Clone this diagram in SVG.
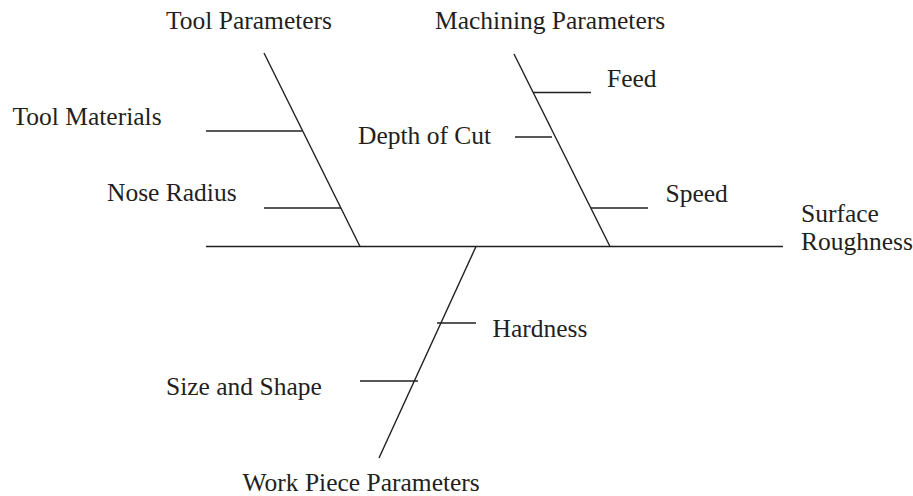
<svg xmlns="http://www.w3.org/2000/svg" width="913" height="496" viewBox="0 0 913 496">
<style>
.ln{stroke:#231f20;stroke-width:1.4;fill:none}
.t{font-family:"Liberation Serif","Times New Roman",serif;font-size:25.5px;fill:#231f20}
</style>
<rect width="913" height="496" fill="#fff"/>
<g id="connectors">
<line class="ln" x1="206" y1="246.5" x2="783" y2="246.5"/>
<line class="ln" x1="264" y1="53" x2="360" y2="246.5"/>
<line class="ln" x1="206" y1="131" x2="302" y2="131"/>
<line class="ln" x1="264" y1="208" x2="341" y2="208"/>
<line class="ln" x1="514" y1="54" x2="610" y2="246.5"/>
<line class="ln" x1="533" y1="92.5" x2="591" y2="92.5"/>
<line class="ln" x1="515" y1="137" x2="552" y2="137"/>
<line class="ln" x1="591" y1="208" x2="648" y2="208"/>
<line class="ln" x1="476" y1="246.5" x2="379" y2="458"/>
<line class="ln" x1="437" y1="323" x2="476" y2="323"/>
<line class="ln" x1="360" y1="381" x2="418" y2="381"/>
</g>
<g id="tool-parameters"><text class="t" x="166" y="29">Tool Parameters</text></g>
<g id="machining-parameters"><text class="t" x="435" y="29">Machining Parameters</text></g>
<g id="tool-materials"><text class="t" x="12.5" y="125">Tool Materials</text></g>
<g id="nose-radius"><text class="t" x="107" y="201">Nose Radius</text></g>
<g id="depth-of-cut"><text class="t" x="358" y="144">Depth of Cut</text></g>
<g id="feed"><text class="t" x="607" y="86.5">Feed</text></g>
<g id="speed"><text class="t" x="665.5" y="201.5">Speed</text></g>
<g id="surface-roughness"><text class="t" x="801" y="221.5">Surface</text><text class="t" x="801" y="250">Roughness</text></g>
<g id="hardness"><text class="t" x="492.5" y="337">Hardness</text></g>
<g id="size-and-shape"><text class="t" x="166" y="395">Size and Shape</text></g>
<g id="work-piece-parameters"><text class="t" x="242.5" y="490.5">Work Piece Parameters</text></g>
</svg>
